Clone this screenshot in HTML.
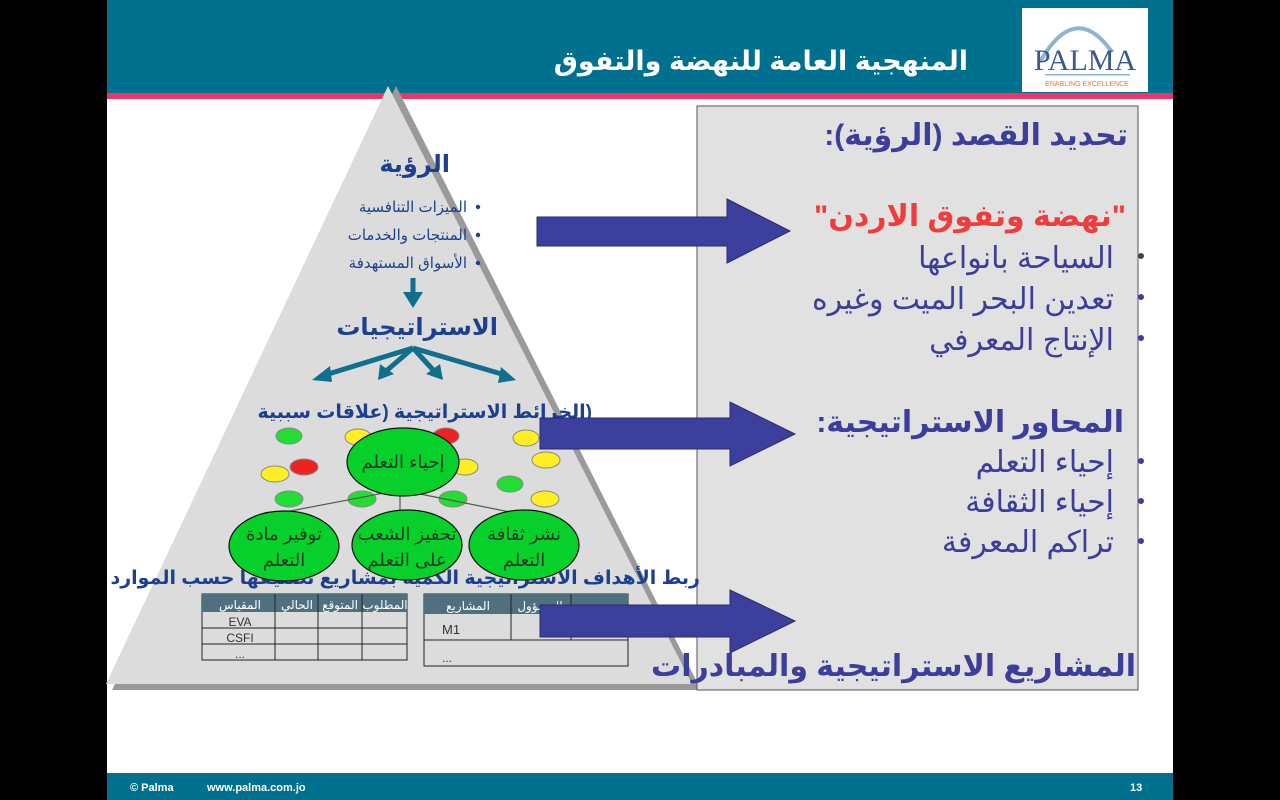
<!DOCTYPE html>
<html><head><meta charset="utf-8"><style>
body{margin:0;width:1280px;height:800px;background:#000;overflow:hidden;font-family:"Liberation Sans","Noto Sans CJK SC",sans-serif}
</style></head><body>
<svg width="1280" height="800" xmlns="http://www.w3.org/2000/svg" style="position:absolute;left:0;top:0" font-family="'Liberation Sans','DejaVu Sans',sans-serif">
<rect x="107" y="0" width="1066" height="800" fill="#fff"/>
<rect x="107" y="0" width="1066" height="93" fill="#00708f"/>
<rect x="107" y="93" width="1066" height="6" fill="#e8386a"/>
<rect x="1022" y="8" width="126" height="84" fill="#fff"/>
<path d="M1040 62 Q1075 0 1112 52" stroke="#8fb4d0" stroke-width="4" fill="none"/>
<text x="1085" y="70" font-size="30" fill="#3a5a8c" text-anchor="middle" font-family="'Liberation Serif',serif">PALMA</text>
<rect x="1045" y="74" width="85" height="1.5" fill="#8fb4d0"/>
<text x="1087" y="86" font-size="7" fill="#e07b3a" text-anchor="middle">ENABLING EXCELLENCE</text>
<text x="968" y="70" font-size="27" font-weight="bold" fill="#fff" text-anchor="start" direction="rtl">المنهجية العامة للنهضة والتفوق</text>
<!-- pyramid -->
<polygon points="396,86 701,690 112,690" fill="#9a9a9a"/>
<polygon points="388,86 692,684 106,684" fill="#dcdcdc"/>
<!-- right box -->
<rect x="697" y="106" width="441" height="584" fill="#e1e1e1" stroke="#555" stroke-width="1"/>
<g fill="#3d3d9b" font-size="30" text-anchor="start" direction="rtl">
<text x="1128" y="145" font-weight="bold">تحديد القصد (الرؤية):</text>
<text x="1126" y="226" fill="#f03c3c" font-weight="bold">"نهضة وتفوق الاردن"</text>
<text x="1114" y="268">السياحة بانواعها</text>
<text x="1114" y="309">تعدين البحر الميت وغيره</text>
<text x="1114" y="350">الإنتاج المعرفي</text>
<text x="1124" y="432" font-weight="bold">المحاور الاستراتيجية:</text>
<text x="1114" y="472">إحياء التعلم</text>
<text x="1114" y="512">إحياء الثقافة</text>
<text x="1114" y="552">تراكم المعرفة</text>
<text x="1136" y="676" font-weight="bold">المشاريع الاستراتيجية والمبادرات</text>
</g>
<g fill="#3d3d9b"><circle cx="1141" cy="256" r="3" fill="#444"/><circle cx="1141" cy="297" r="3"/><circle cx="1141" cy="338" r="3"/><circle cx="1141" cy="461" r="3"/><circle cx="1141" cy="501" r="3"/><circle cx="1141" cy="541" r="3"/></g>
<!-- pyramid content -->
<g fill="#1d3f8f" text-anchor="start" direction="rtl">
<text x="450" y="172" font-size="24" font-weight="bold">الرؤية</text>
<text x="467" y="212" font-size="15">الميزات التنافسية</text>
<text x="467" y="240" font-size="15">المنتجات والخدمات</text>
<text x="467" y="268" font-size="15">الأسواق المستهدفة</text>
<text x="498" y="335" font-size="24" font-weight="bold">الاستراتيجيات</text>
<text x="592" y="418" font-size="19" font-weight="bold">(الخرائط الاستراتيجية (علاقات سببية</text>
<text x="700" y="584" font-size="19" font-weight="bold">ربط الأهداف الاستراتيجية الكمية بمشاريع تصنيفها حسب الموارد</text>
</g>
<g fill="#1d3f8f"><circle cx="478" cy="207" r="2.2"/><circle cx="478" cy="235" r="2.2"/><circle cx="478" cy="263" r="2.2"/></g>
<g fill="#0f6f8c" stroke="#0f6f8c" stroke-width="5">
<line x1="413" y1="278" x2="413" y2="296"/><polygon points="403,292 423,292 413,308" stroke="none"/>
<line x1="413" y1="348" x2="325" y2="375"/><line x1="413" y1="348" x2="385" y2="372"/><line x1="413" y1="348" x2="435" y2="372"/><line x1="413" y1="348" x2="505" y2="375"/>
<polygon points="312,380 330,366 332,382" stroke="none"/><polygon points="378,380 380,364 394,374" stroke="none"/><polygon points="443,380 426,374 440,364" stroke="none"/><polygon points="516,380 498,383 501,367" stroke="none"/>
</g>
<!-- small ellipses -->
<g stroke="#888" stroke-width="1">
<ellipse cx="289" cy="436" rx="13" ry="8" fill="#22dd33"/>
<ellipse cx="358" cy="437" rx="13" ry="8" fill="#ffee22"/>
<ellipse cx="446" cy="436" rx="13" ry="8" fill="#ee2222"/>
<ellipse cx="526" cy="438" rx="13" ry="8" fill="#ffee22"/>
<ellipse cx="275" cy="474" rx="14" ry="8" fill="#ffee22"/>
<ellipse cx="304" cy="467" rx="14" ry="8" fill="#ee2222"/>
<ellipse cx="465" cy="467" rx="13" ry="8" fill="#ffee22"/>
<ellipse cx="546" cy="460" rx="14" ry="8" fill="#ffee22"/>
<ellipse cx="510" cy="484" rx="13" ry="8" fill="#22dd33"/>
<ellipse cx="289" cy="499" rx="14" ry="8" fill="#22dd33"/>
<ellipse cx="362" cy="499" rx="14" ry="8" fill="#22dd33"/>
<ellipse cx="453" cy="499" rx="14" ry="8" fill="#22dd33"/>
<ellipse cx="545" cy="499" rx="14" ry="8" fill="#ffee22"/>
</g>
<g stroke="#555" stroke-width="1.2" fill="none">
<line x1="400" y1="490" x2="285" y2="512"/><line x1="400" y1="490" x2="400" y2="512"/><line x1="400" y1="490" x2="510" y2="512"/>
</g>
<g stroke="#111" stroke-width="1.2" fill="#07d02a">
<ellipse cx="403" cy="462" rx="56" ry="34"/>
<ellipse cx="284" cy="546" rx="55" ry="35"/>
<ellipse cx="407" cy="545" rx="55" ry="35"/>
<ellipse cx="524" cy="545" rx="55" ry="35"/>
</g>
<g fill="#2a3a2a" font-size="18" text-anchor="middle">
<text x="403" y="468">إحياء التعلم</text>
<text x="284" y="540">توفير مادة</text><text x="284" y="566">التعلم</text>
<text x="407" y="540">تحفيز الشعب</text><text x="407" y="566">على التعلم</text>
<text x="524" y="540">نشر ثقافة</text><text x="524" y="566">التعلم</text>
</g>
<!-- tables -->
<g font-size="12" fill="#333">
<rect x="202" y="594" width="205" height="66" fill="none" stroke="#222"/>
<rect x="202" y="594" width="205" height="18" fill="#507080"/>
<line x1="202" y1="628" x2="407" y2="628" stroke="#222"/><line x1="202" y1="644" x2="407" y2="644" stroke="#222"/>
<line x1="275" y1="594" x2="275" y2="660" stroke="#222"/><line x1="318" y1="594" x2="318" y2="660" stroke="#222"/><line x1="362" y1="594" x2="362" y2="660" stroke="#222"/>
<g fill="#fff" font-size="12" text-anchor="middle"><text x="240" y="609">المقياس</text><text x="297" y="609">الحالي</text><text x="340" y="609">المتوقع</text><text x="385" y="609">المطلوب</text></g>
<text x="240" y="626" text-anchor="middle">EVA</text><text x="240" y="642" text-anchor="middle">CSFI</text><text x="240" y="658" text-anchor="middle">...</text>
<rect x="424" y="594" width="204" height="72" fill="none" stroke="#222"/>
<rect x="424" y="594" width="204" height="20" fill="#507080"/>
<line x1="424" y1="640" x2="628" y2="640" stroke="#222"/>
<line x1="511" y1="594" x2="511" y2="640" stroke="#222"/><line x1="571" y1="594" x2="571" y2="640" stroke="#222"/>
<text x="468" y="610" fill="#fff" text-anchor="middle">المشاريع</text><text x="540" y="610" fill="#fff" text-anchor="middle">المسؤول</text>
<text x="442" y="634" font-size="13">M1</text><text x="442" y="662">...</text>
</g>
<!-- big arrows -->
<g fill="#3c3f9c" stroke="#2a2a70" stroke-width="1">
<polygon points="537,217 727,217 727,199 790,231 727,263 727,246 537,246"/>
<polygon points="540,418 730,418 730,402 795,434 730,466 730,449 540,449"/>
<polygon points="540,605 730,605 730,590 795,621 730,653 730,637 540,637"/>
</g>
<!-- footer -->
<rect x="107" y="773" width="1066" height="27" fill="#00708f"/>
<g fill="#fff" font-size="11" font-weight="bold"><text x="130" y="791">© Palma</text><text x="207" y="791">www.palma.com.jo</text><text x="1130" y="791">13</text></g>
</svg>
</body></html>
